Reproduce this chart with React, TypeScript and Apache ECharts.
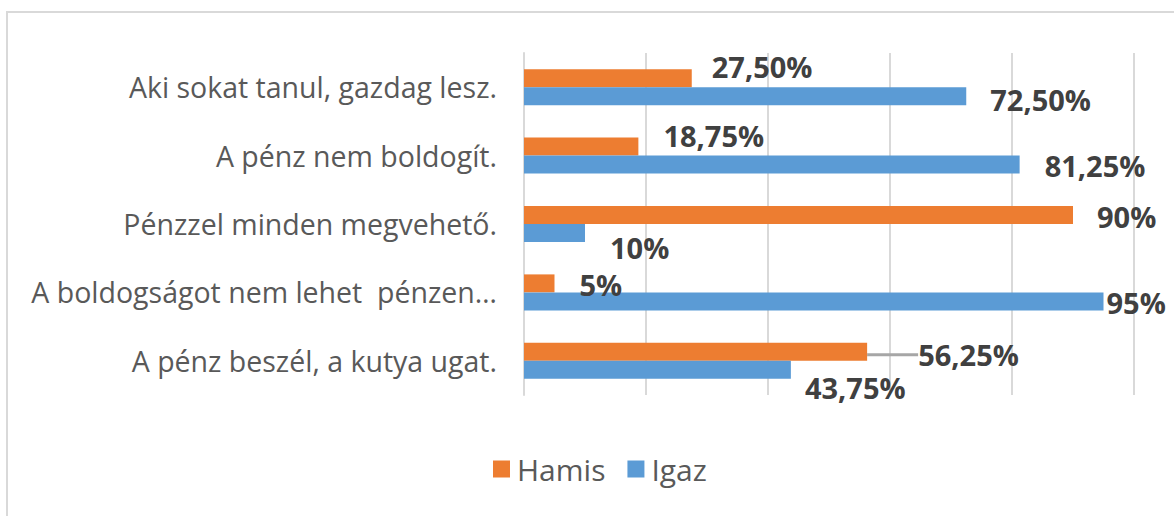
import React, { useEffect, useRef } from "react";
import * as echarts from "echarts";

const categories = [
  "Aki sokat tanul, gazdag lesz.",
  "A pénz nem boldogít.",
  "Pénzzel minden megvehető.",
  "A boldogságot nem lehet  pénzen…",
  "A pénz beszél, a kutya ugat.",
];
const hamis = [27.5, 18.75, 90, 5, 56.25];
const igaz = [72.5, 81.25, 10, 95, 43.75];
const xTicks = [0, 20, 40, 60, 80, 100];

// label nudges (dx, dy) mimicking manually placed Excel labels
const hamisLabelShift: [number, number][] = [[15, -12], [20, -11], [19, 1], [20, 1], [46, 3]];
const igazLabelShift: [number, number][] = [[19, 3], [20, 1], [20, 14], [-2, 1], [9, 18]];

const FONT = "'Open Sans', 'Noto Sans', sans-serif";

function fmt(v: number): string {
  if (Number.isInteger(v)) return v + "%";
  return v.toFixed(2).replace(".", ",") + "%";
}

export default function App() {
  const ref = useRef<HTMLDivElement>(null);
  useEffect(() => {
    if (!ref.current) return;
    const chart = echarts.init(ref.current, undefined, { renderer: "svg" });
    const labelStyle = {
      show: true,
      position: "right" as const,
      distance: 5,
      color: "#404040",
      fontWeight: "bold" as const,
      fontSize: 29,
      fontFamily: FONT,
      formatter: (p: any) => fmt(p.value),
    };
    chart.setOption({
      animation: false,
      backgroundColor: "#ffffff",
      graphic: [
        {
          type: "rect",
          shape: { x: 7, y: 12, width: 1300, height: 700 },
          style: { fill: "none", stroke: "#d9d9d9", lineWidth: 2 },
          silent: true,
          z: -10,
        },
      ],
      grid: { left: 524, right: 40, top: 53, bottom: 121, containLabel: false },
      legend: {
        data: ["Hamis", "Igaz"],
        bottom: 27,
        left: 488,
        itemWidth: 17,
        itemHeight: 17,
        itemGap: 22,
        icon: "rect",
        textStyle: { color: "#595959", fontSize: 30, fontFamily: FONT, padding: [0, 0, 0, 2] },
      },
      xAxis: {
        type: "value",
        min: xTicks[0],
        max: xTicks[xTicks.length - 1],
        interval: 20,
        axisLabel: { show: false },
        axisLine: { show: false },
        axisTick: { show: false },
        splitLine: { show: true, lineStyle: { color: "#d9d9d9", width: 2 } },
      },
      yAxis: {
        type: "category",
        data: categories,
        inverse: true,
        axisLine: { show: true, lineStyle: { color: "#d9d9d9", width: 2 } },
        axisTick: { show: false },
        axisLabel: {
          color: "#595959",
          fontSize: 28.5,
          fontFamily: FONT,
          margin: 27,
        },
      },
      series: [
        {
          name: "Hamis",
          type: "bar",
          barWidth: 18,
          barGap: "0%",
          itemStyle: { color: "#ED7D31" },
          data: hamis.map((v, i) => ({
            value: v,
            labelLine: i === 4 ? { show: true, lineStyle: { color: "#a6a6a6", width: 3 } } : { show: false },
          })),
          label: labelStyle,
          labelLayout: (p: any) => ({ dx: hamisLabelShift[p.dataIndex][0], dy: hamisLabelShift[p.dataIndex][1] }),
        },
        {
          name: "Igaz",
          type: "bar",
          barWidth: 18,
          barGap: "0%",
          itemStyle: { color: "#5B9BD5" },
          data: igaz,
          label: labelStyle,
          labelLayout: (p: any) => ({ dx: igazLabelShift[p.dataIndex][0], dy: igazLabelShift[p.dataIndex][1] }),
        },
      ],
    });
    return () => chart.dispose();
  }, []);
  return (
    <div
      ref={ref}
      style={{ position: "absolute", left: 0, top: 0, width: 1174, height: 516 }}
    />
  );
}
